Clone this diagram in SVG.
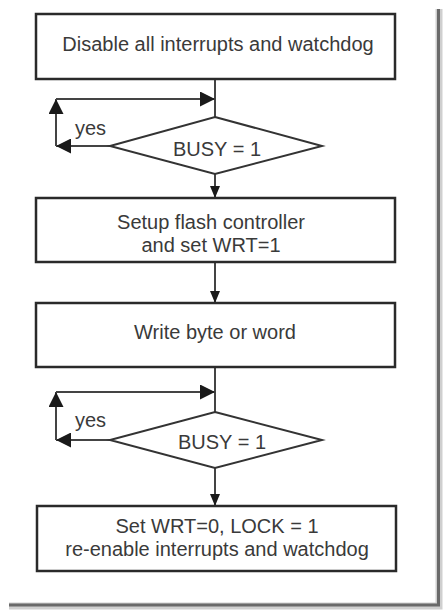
<svg xmlns="http://www.w3.org/2000/svg" width="446" height="611" viewBox="0 0 446 611">
<defs>
<style>
.box{fill:#fff;stroke:#2a2a2a;stroke-width:2.5}
.dia{fill:#fff;stroke:#333;stroke-width:2}
.ln{fill:none;stroke:#444;stroke-width:2}
.t{font-family:"Liberation Sans",Arial,sans-serif;font-size:20px;fill:#3a3a3a;text-anchor:middle}
.ty{font-family:"Liberation Sans",Arial,sans-serif;font-size:20px;fill:#3a3a3a}
</style>
<marker id="ad" viewBox="0 0 12 10" refX="12" refY="5" markerWidth="12" markerHeight="10" markerUnits="userSpaceOnUse" orient="auto">
<path d="M0,0 L12,5 L0,10 Z" fill="#1a1a1a"/>
</marker>
<marker id="al" viewBox="0 0 15 15" refX="15" refY="7.5" markerWidth="15" markerHeight="15" markerUnits="userSpaceOnUse" orient="auto">
<path d="M0,0 L15,7.5 L0,15 Z" fill="#1a1a1a"/>
</marker>
</defs>
<rect width="446" height="611" fill="#fff"/>
<g id="frame">
<path d="M439,9 V606 H9" fill="none" stroke="#cfcfcf" stroke-width="7"/>
<path d="M438.5,9 V605 H9" fill="none" stroke="#6a6a6a" stroke-width="3"/>
</g>
<g id="connectors">
<path class="ln" d="M215,79 V117"/>
<path class="ln" d="M110,146 H56" marker-end="url(#al)"/>
<path class="ln" d="M56,146 V99" marker-end="url(#al)"/>
<path class="ln" d="M56,99 H215" marker-end="url(#al)"/>
<path class="ln" d="M215,174 V198" marker-end="url(#ad)"/>
<path class="ln" d="M215,262 V303" marker-end="url(#ad)"/>
<path class="ln" d="M215,367 V412"/>
<path class="ln" d="M110,440 H56" marker-end="url(#al)"/>
<path class="ln" d="M56,440 V392" marker-end="url(#al)"/>
<path class="ln" d="M56,392 H215" marker-end="url(#al)"/>
<path class="ln" d="M215,468 V506" marker-end="url(#ad)"/>
<text class="ty" x="75" y="135">yes</text>
<text class="ty" x="75" y="427">yes</text>
</g>
<g id="n1">
<rect class="box" x="36" y="14" width="359" height="65"/>
<text class="t" x="218" y="51">Disable all interrupts and watchdog</text>
</g>
<g id="d1">
<polygon class="dia" points="215,117 322,146 215,174 110,146"/>
<text class="t" x="217" y="156">BUSY = 1</text>
</g>
<g id="n2">
<rect class="box" x="36" y="198" width="359" height="64"/>
<text class="t" x="211" y="229">Setup flash controller</text>
<text class="t" x="211" y="252">and set WRT=1</text>
</g>
<g id="n3">
<rect class="box" x="36" y="303" width="359" height="64"/>
<text class="t" x="215" y="339">Write byte or word</text>
</g>
<g id="d2">
<polygon class="dia" points="215,412 322,440 215,468 110,440"/>
<text class="t" x="222" y="449">BUSY = 1</text>
</g>
<g id="n4">
<rect class="box" x="37" y="506" width="359" height="65"/>
<text class="t" x="217" y="533">Set WRT=0, LOCK = 1</text>
<text class="t" x="217" y="556">re-enable interrupts and watchdog</text>
</g>
</svg>
